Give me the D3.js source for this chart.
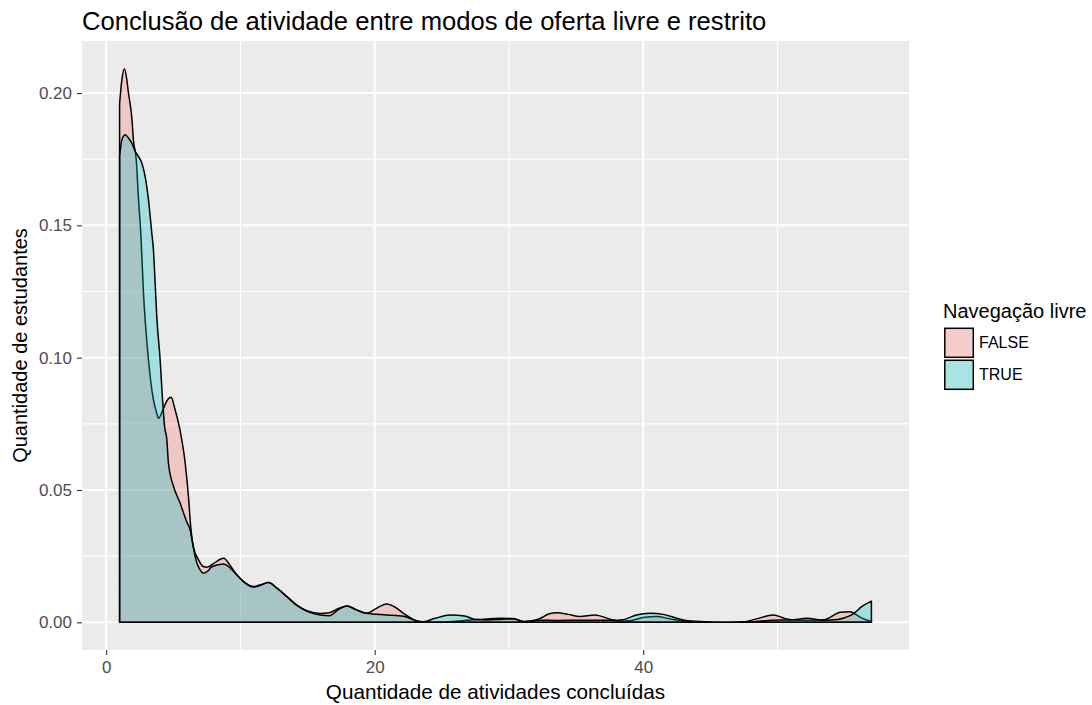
<!DOCTYPE html>
<html>
<head>
<meta charset="utf-8">
<script src="https://cdn.jsdelivr.net/npm/d3@7"></script>
<style>
  body { margin: 0; background: #fff; }
  svg { display: block; font-family: "Liberation Sans", Arial, sans-serif; }
</style>
</head>
<body>
<svg id="chart" width="1092" height="705"></svg>
<script>
var groups = ['FALSE', 'TRUE'];
var groupColors = ['#F8766D', '#00BFC4'];

// density, FALSE group
var falseX = [1, 1.17, 1.36, 1.54, 1.66, 1.91, 2.03, 2.24, 2.41, 2.58, 2.78, 3.15, 3.52, 3.77, 3.9,
  4.2, 4.5, 4.84, 5.1, 5.5, 5.89, 6.13, 6.3, 6.5, 6.88, 7.2, 7.5, 8.0, 8.74, 9.3, 9.74, 10.23,
  10.98, 11.5, 12.09, 12.72, 13.46, 14.2, 14.96, 15.95, 16.6, 17.3, 17.93, 18.6, 19.4, 20.1,
  20.9, 21.5, 22.15, 23.1, 23.6, 24.5, 25.5, 26.5, 27.4, 28.4, 29.5, 30.35, 31.1, 32.2, 33.0,
  33.6, 34.4, 35.3, 36.4, 37.6, 38.2, 39, 40, 41, 42, 43, 44, 45.5, 47.5, 48.5, 49.7, 50.6,
  51.5, 52.5, 53.5, 54.7, 55.4, 55.7, 56.3, 57];
var falseY = [0.196, 0.205, 0.2092, 0.205, 0.200, 0.1907, 0.1823, 0.1748, 0.1597, 0.147, 0.1244,
  0.0992, 0.0841, 0.079, 0.0771, 0.080, 0.0835, 0.0850, 0.081, 0.0727, 0.060, 0.0475, 0.036,
  0.0285, 0.0236, 0.0212, 0.0208, 0.0222, 0.0242, 0.021, 0.0179, 0.0154, 0.0135, 0.0142, 0.015,
  0.0129, 0.0097, 0.0065, 0.0044, 0.0033, 0.0036, 0.0052, 0.0062, 0.0048, 0.0034, 0.0052, 0.0069,
  0.0058, 0.0034, 0.0006, 0.0002, 0.0001, 0.0002, 0.0006, 0.001, 0.0013, 0.0015, 0.0014, 0.0003,
  0.0012, 0.0032, 0.0036, 0.0030, 0.0022, 0.0028, 0.0011, 0.0005, 0.0006, 0.0018, 0.0022, 0.0013,
  0.0005, 0.0002, 0.0, 0.0002, 0.0014, 0.0028, 0.0014, 0.0008, 0.0008, 0.0010, 0.0038, 0.0040,
  0.0034, 0.0016, 0.0003];

// density, TRUE group
var trueX = [1, 1.17, 1.42, 1.66, 1.91, 2.16, 2.41, 2.66, 2.9, 3.15, 3.4, 3.52, 3.65, 3.77, 4.02,
  4.2, 4.35, 4.52, 4.64, 5.02, 5.51, 6.0, 6.26, 6.5, 6.75, 7.0, 7.25, 7.6, 7.87, 8.74, 9.74,
  10.23, 10.98, 11.5, 12.09, 12.72, 13.46, 14.2, 14.96, 15.95, 16.6, 17.3, 17.93, 18.6, 19.4,
  20.9, 22.15, 23.1, 23.6, 24.5, 25.6, 26.7, 27.4, 28.4, 29.5, 30.35, 31.1, 32.2, 33.6, 35.3,
  36.4, 37.6, 38.5, 39.5, 40.5, 41.5, 42.5, 43.5, 44.8, 45.5, 47.5, 48.5, 49.7, 51, 52.2, 53.45,
  54.5, 55.4, 55.7, 56.3, 57];
var trueY = [0.176, 0.1823, 0.1842, 0.183, 0.1811, 0.178, 0.176, 0.1735, 0.1685, 0.1597, 0.147,
  0.1408, 0.128, 0.1155, 0.0992, 0.084, 0.074, 0.069, 0.060, 0.0513, 0.045, 0.038, 0.0349, 0.028,
  0.0225, 0.0198, 0.0185, 0.0195, 0.021, 0.022, 0.0179, 0.0154, 0.0133, 0.0140, 0.015, 0.0129,
  0.0097, 0.0064, 0.0042, 0.0028, 0.0025, 0.0048, 0.0062, 0.0048, 0.0034, 0.0028, 0.0023, 0.0006,
  0.0002, 0.0015, 0.0028, 0.0024, 0.0012, 0.0009, 0.0012, 0.0013, 0.0002, 0.0008, 0.0007, 0.0008,
  0.0008, 0.0008, 0.0010, 0.0028, 0.0034, 0.0030, 0.0015, 0.0005, 0.0002, 0.0, 0.0, 0.0004,
  0.0008, 0.0009, 0.0015, 0.0008, 0.0011, 0.0025, 0.0034, 0.0060, 0.0080];

var xTicks = [0, 20, 40];
var xMinor = [10, 30, 50];
var yTicks = [0, 0.05, 0.10, 0.15, 0.20];
var yMinor = [0.025, 0.075, 0.125, 0.175];

var title = 'Conclusão de atividade entre modos de oferta livre e restrito';
var xTitle = 'Quantidade de atividades concluídas';
var yTitle = 'Quantidade de estudantes';
var legendTitle = 'Navegação livre';


var panel = {left: 82, right: 909, top: 41, bottom: 650};
var fillAlpha = 0.3;

var series = [
  {key: groups[0], color: groupColors[0], values: zip(falseX, falseY)},
  {key: groups[1], color: groupColors[1], values: zip(trueX, trueY)}
];

var x = d3.scaleLinear()
  .domain(expand(d3.extent(falseX.concat(trueX))))
  .range([panel.left, panel.right]);

var y = d3.scaleLinear()
  .domain(expand([0, d3.max(falseY.concat(trueY))]))
  .range([panel.bottom, panel.top]);

var svg = d3.select('#chart');

drawPanel(svg);
drawDensities(svg);
drawAxes(svg);
drawLegend(svg);


function zip(xs, ys) {
  return xs.map(function(v, i) {
    return {x: v, y: ys[i]};
  });
}


function expand(ext) {
  var pad = (ext[1] - ext[0]) * 0.05;
  return [ext[0] - pad, ext[1] + pad];
}


function drawPanel(el) {
  el.append('rect')
    .attr('x', panel.left)
    .attr('y', panel.top)
    .attr('width', panel.right - panel.left)
    .attr('height', panel.bottom - panel.top)
    .attr('fill', '#EBEBEB');

  var grid = el.append('g')
    .attr('stroke', '#fff')
    .attr('fill', 'none');

  grid.selectAll('.minor-x')
    .data(xMinor)
    .enter().append('line')
      .attr('x1', x).attr('x2', x)
      .attr('y1', panel.top).attr('y2', panel.bottom)
      .attr('stroke-width', 1.1);

  grid.selectAll('.minor-y')
    .data(yMinor)
    .enter().append('line')
      .attr('y1', y).attr('y2', y)
      .attr('x1', panel.left).attr('x2', panel.right)
      .attr('stroke-width', 1.1);

  grid.selectAll('.major-x')
    .data(xTicks)
    .enter().append('line')
      .attr('x1', x).attr('x2', x)
      .attr('y1', panel.top).attr('y2', panel.bottom)
      .attr('stroke-width', 2);

  grid.selectAll('.major-y')
    .data(yTicks)
    .enter().append('line')
      .attr('y1', y).attr('y2', y)
      .attr('x1', panel.left).attr('x2', panel.right)
      .attr('stroke-width', 2);
}


function drawDensities(el) {
  var area = d3.area()
    .x(function(d) { return x(d.x); })
    .y0(y(0))
    .y1(function(d) { return y(d.y); })
    .curve(d3.curveMonotoneX);

  el.append('g')
    .selectAll('path')
    .data(series)
    .enter().append('path')
      .attr('d', function(d) { return area(d.values); })
      .attr('fill', function(d) { return d.color; })
      .attr('fill-opacity', fillAlpha)
      .attr('stroke', '#000')
      .attr('stroke-width', 1.5)
      .attr('stroke-linejoin', 'round');
}


function drawAxes(el) {
  var xAxis = el.append('g')
    .attr('transform', 'translate(0,' + panel.bottom + ')')
    .call(d3.axisBottom(x)
      .tickValues(xTicks)
      .tickFormat(d3.format('d'))
      .tickSize(5)
      .tickPadding(6));

  var yAxis = el.append('g')
    .attr('transform', 'translate(' + panel.left + ',0)')
    .call(d3.axisLeft(y)
      .tickValues(yTicks)
      .tickFormat(d3.format('.2f'))
      .tickSize(5)
      .tickPadding(5));

  [xAxis, yAxis].forEach(function(ax) {
    ax.select('.domain').remove();
    ax.selectAll('line')
      .attr('stroke', '#333')
      .attr('stroke-width', 1.1);
    ax.selectAll('text')
      .attr('fill', '#4D4D4D')
      .style('font-size', '17px')
      .style('font-family', '"Liberation Sans", Arial, sans-serif');
  });

  el.append('text')
    .attr('x', (panel.left + panel.right) / 2)
    .attr('y', 699)
    .attr('text-anchor', 'middle')
    .style('font-size', '20.7px')
    .text(xTitle);

  el.append('text')
    .attr('transform', 'translate(27,' + ((panel.top + panel.bottom) / 2) + ') rotate(-90)')
    .attr('text-anchor', 'middle')
    .style('font-size', '20px')
    .text(yTitle);

  el.append('text')
    .attr('x', panel.left)
    .attr('y', 30)
    .style('font-size', '25.6px')
    .text(title);
}


function drawLegend(el) {
  var legend = el.append('g')
    .attr('transform', 'translate(943,0)');

  legend.append('text')
    .attr('x', 0)
    .attr('y', 318)
    .style('font-size', '20px')
    .text(legendTitle);

  var keys = legend.selectAll('.key')
    .data(series)
    .enter().append('g')
      .attr('transform', function(d, i) {
        return 'translate(0,' + (327 + i * 32) + ')';
      });

  keys.append('rect')
    .attr('x', 1).attr('y', 0)
    .attr('width', 30).attr('height', 31)
    .attr('fill', '#F2F2F2');

  keys.append('rect')
    .attr('x', 1.8).attr('y', 1.3)
    .attr('width', 28.5).attr('height', 29)
    .attr('fill', function(d) { return d.color; })
    .attr('fill-opacity', fillAlpha)
    .attr('stroke', '#000')
    .attr('stroke-width', 1.5);

  keys.append('text')
    .attr('x', 36)
    .attr('y', 15.5)
    .attr('dy', '0.35em')
    .style('font-size', '16px')
    .text(function(d) { return d.key; });
}
</script>
</body>
</html>
